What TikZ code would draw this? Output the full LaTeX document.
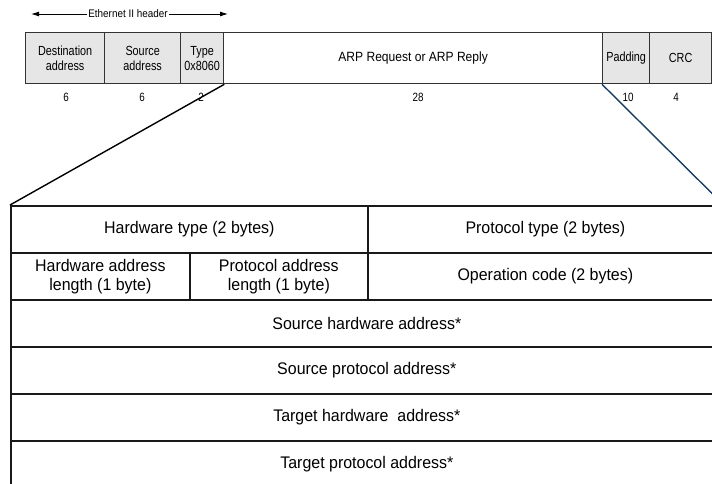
\documentclass[tikz,border=0pt]{standalone}
\usepackage{fontspec}
\setmainfont{Liberation Sans}
\newfontfamily\narrowA{Liberation Sans}[FakeStretch=0.82]
\newfontfamily\narrowB{Liberation Sans}[FakeStretch=0.9]
\newfontfamily\narrowC{Liberation Sans}[FakeStretch=0.95]
\usetikzlibrary{arrows.meta}
\definecolor{boxgray}{RGB}{230,230,230}
\definecolor{linkblue}{RGB}{20,62,110}
\begin{document}
\begin{tikzpicture}[x=1pt,y=-1pt,
  hcell/.style={draw=black!80, line width=1.3pt, fill=boxgray, minimum height=51pt,
    inner sep=0pt, anchor=north west, align=center,
    font=\narrowA\fontsize{13.2}{15}\selectfont},
  numlab/.style={inner sep=0pt, font=\narrowA\fontsize{12}{13}\selectfont},
  tcell/.style={draw=black!90, line width=1.7pt, minimum height=47pt,
    inner sep=0pt, anchor=north west, align=center,
    font=\narrowC\fontsize{16.8}{19}\selectfont},
  headarrow/.style={line width=0.9pt, -{Latex[length=8pt,width=5pt]}},
  link/.style={line width=1.4pt}]
\useasboundingbox (0,0) rectangle (712,483);
\clip (0,0) rectangle (712,483);

% Ethernet II header label
\node[inner sep=1pt, font=\narrowB\fontsize{11}{12}\selectfont] (eth) at (128,14) {Ethernet II header};
\coordinate (ethL) at (31,14);
\coordinate (ethR) at (228,14);
\draw[headarrow] (eth.west) -- (ethL);
\draw[headarrow] (eth.east) -- (ethR);

% Ethernet frame
\node[hcell, minimum width=79pt] (dst) at (25,32) {Destination\\address};
\node[hcell, minimum width=76pt] (src) at (104,32) {Source\\address};
\node[hcell, minimum width=43pt] (typ) at (180,32) {Type\\0x8060};
\node[hcell, fill=white, minimum width=379pt, font=\narrowB\fontsize{13.4}{15}\selectfont] (arp) at (223,32) {ARP Request or ARP Reply};
\node[hcell, minimum width=47pt] (pad) at (602,32) {Padding};
\node[hcell, minimum width=62pt] (crc) at (649,32) {CRC};

% byte counts
\node[numlab] (n1) at (66,97) {6};
\node[numlab] (n2) at (142,97) {6};
\node[numlab] (n3) at (201,97) {2};
\node[numlab] (n4) at (418,97) {28};
\node[numlab] (n5) at (628,97) {10};
\node[numlab] (n6) at (676,97) {4};

% ARP packet table
\node[tcell, minimum width=357pt] (ht) at (10,205) {Hardware type (2 bytes)};
\node[tcell, minimum width=355pt] (pt) at (367,205) {Protocol type (2 bytes)};
\node[tcell, minimum width=179pt] (hal) at (10,252) {Hardware address\\length (1 byte)};
\node[tcell, minimum width=178pt] (pal) at (189,252) {Protocol address\\length (1 byte)};
\node[tcell, minimum width=355pt] (op) at (367,252) {Operation code (2 bytes)};
\node[tcell, minimum width=712pt] (sha) at (10,299) {Source hardware address*};
\node[tcell, minimum width=712pt] (spa) at (10,346) {Source protocol address*};
\node[tcell, minimum width=712pt] (tha) at (10,393) {Target hardware\ \ address*};
\node[tcell, minimum width=712pt] (tpa) at (10,440) {Target protocol address*};

% expansion lines
\draw[link] (typ.south east) -- (ht.north west);
\draw[link, linkblue] (pad.south west) -- (pt.north east);
\end{tikzpicture}
\end{document}
